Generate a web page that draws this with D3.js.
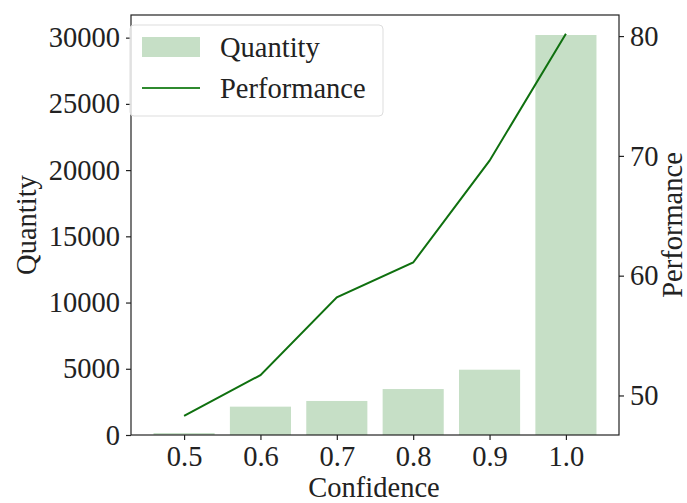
<!DOCTYPE html>
<html><head><meta charset="utf-8">
<script src="https://cdn.jsdelivr.net/npm/d3@7"></script>
<style>body{margin:0;background:#fff} text{font-family:"Liberation Serif","Times New Roman",serif}</style>
</head><body>
<svg id="c" width="687" height="503"></svg>
<script>
const categories = ["0.5","0.6","0.7","0.8","0.9","1.0"];
const xValues = [0.5,0.6,0.7,0.8,0.9,1.0];
const quantity = [150, 2140, 2570, 3470, 4930, 30200];
const performance = [48.3, 51.7, 58.2, 61.1, 69.6, 80.2];
const leftTicks = [0,5000,10000,15000,20000,25000,30000];
const rightTicks = [50,60,70,80];

const m={l:131,r:619,t:15,b:435};
const svg=d3.select("#c");
const fs=28.5;

const x=d3.scaleLinear().domain([0.4305,1.0695]).range([m.l,m.r]);
const y=d3.scaleLinear().domain([0,31710]).range([m.b,m.t]);
const y2=d3.scaleLinear().domain([46.7,81.76]).range([m.b,m.t]);
const bw=x(0.08)-x(0);

svg.append("g").selectAll("rect").data(quantity).join("rect")
  .attr("x",(d,i)=>x(xValues[i])-bw/2)
  .attr("width",bw)
  .attr("y",d=>y(d))
  .attr("height",d=>y(0)-y(d))
  .attr("fill","#c6dfc6");

const line=d3.line().x((d,i)=>x(xValues[i])).y(d=>y2(d));
svg.append("path").datum(performance).attr("d",line)
  .attr("fill","none").attr("stroke","#0f700f").attr("stroke-width",2);

svg.append("rect").attr("x",m.l).attr("y",m.t).attr("width",m.r-m.l).attr("height",m.b-m.t)
  .attr("fill","none").attr("stroke","#222").attr("stroke-width",1.2);

function style(g){
  g.select(".domain").remove();
  g.selectAll(".tick line").attr("stroke","#222").attr("stroke-width",1.2);
  g.selectAll(".tick text").attr("font-family",null).attr("font-size",fs).attr("fill","#222");
}
svg.append("g").attr("transform",`translate(${m.l},0)`)
  .call(d3.axisLeft(y).tickValues(leftTicks).tickFormat(d3.format("d")).tickSize(5).tickPadding(6)).call(style);
svg.append("g").attr("transform",`translate(${m.r},0)`)
  .call(d3.axisRight(y2).tickValues(rightTicks).tickFormat(d3.format("d")).tickSize(5).tickPadding(6)).call(style);
svg.append("g").attr("transform",`translate(0,${m.b})`)
  .call(d3.axisBottom(x).tickValues(xValues).tickFormat((d,i)=>categories[i]).tickSize(5).tickPadding(6)).call(style);

svg.append("text").attr("transform",`translate(36,225) rotate(-90)`).attr("text-anchor","middle")
  .attr("font-size",fs).attr("fill","#222").text("Quantity");
svg.append("text").attr("transform",`translate(682,225) rotate(-90)`).attr("text-anchor","middle")
  .attr("font-size",fs).attr("fill","#222").text("Performance");
svg.append("text").attr("x",374).attr("y",497).attr("text-anchor","middle")
  .attr("font-size",fs).attr("fill","#222").text("Confidence");

const lg=svg.append("g");
lg.append("rect").attr("x",130).attr("y",25).attr("width",253).attr("height",91).attr("rx",4)
  .attr("fill","#fff").attr("fill-opacity",0.8).attr("stroke","#ddd");
lg.append("rect").attr("x",142).attr("y",37).attr("width",58).attr("height",20).attr("fill","#c6dfc6");
lg.append("line").attr("x1",142).attr("x2",200).attr("y1",88).attr("y2",88).attr("stroke","#2f8a2f").attr("stroke-width",2);
lg.append("text").attr("x",220).attr("y",57).attr("font-size",fs).attr("fill","#222").text("Quantity");
lg.append("text").attr("x",220).attr("y",98).attr("font-size",fs).attr("fill","#222").text("Performance");
</script>
</body></html>
